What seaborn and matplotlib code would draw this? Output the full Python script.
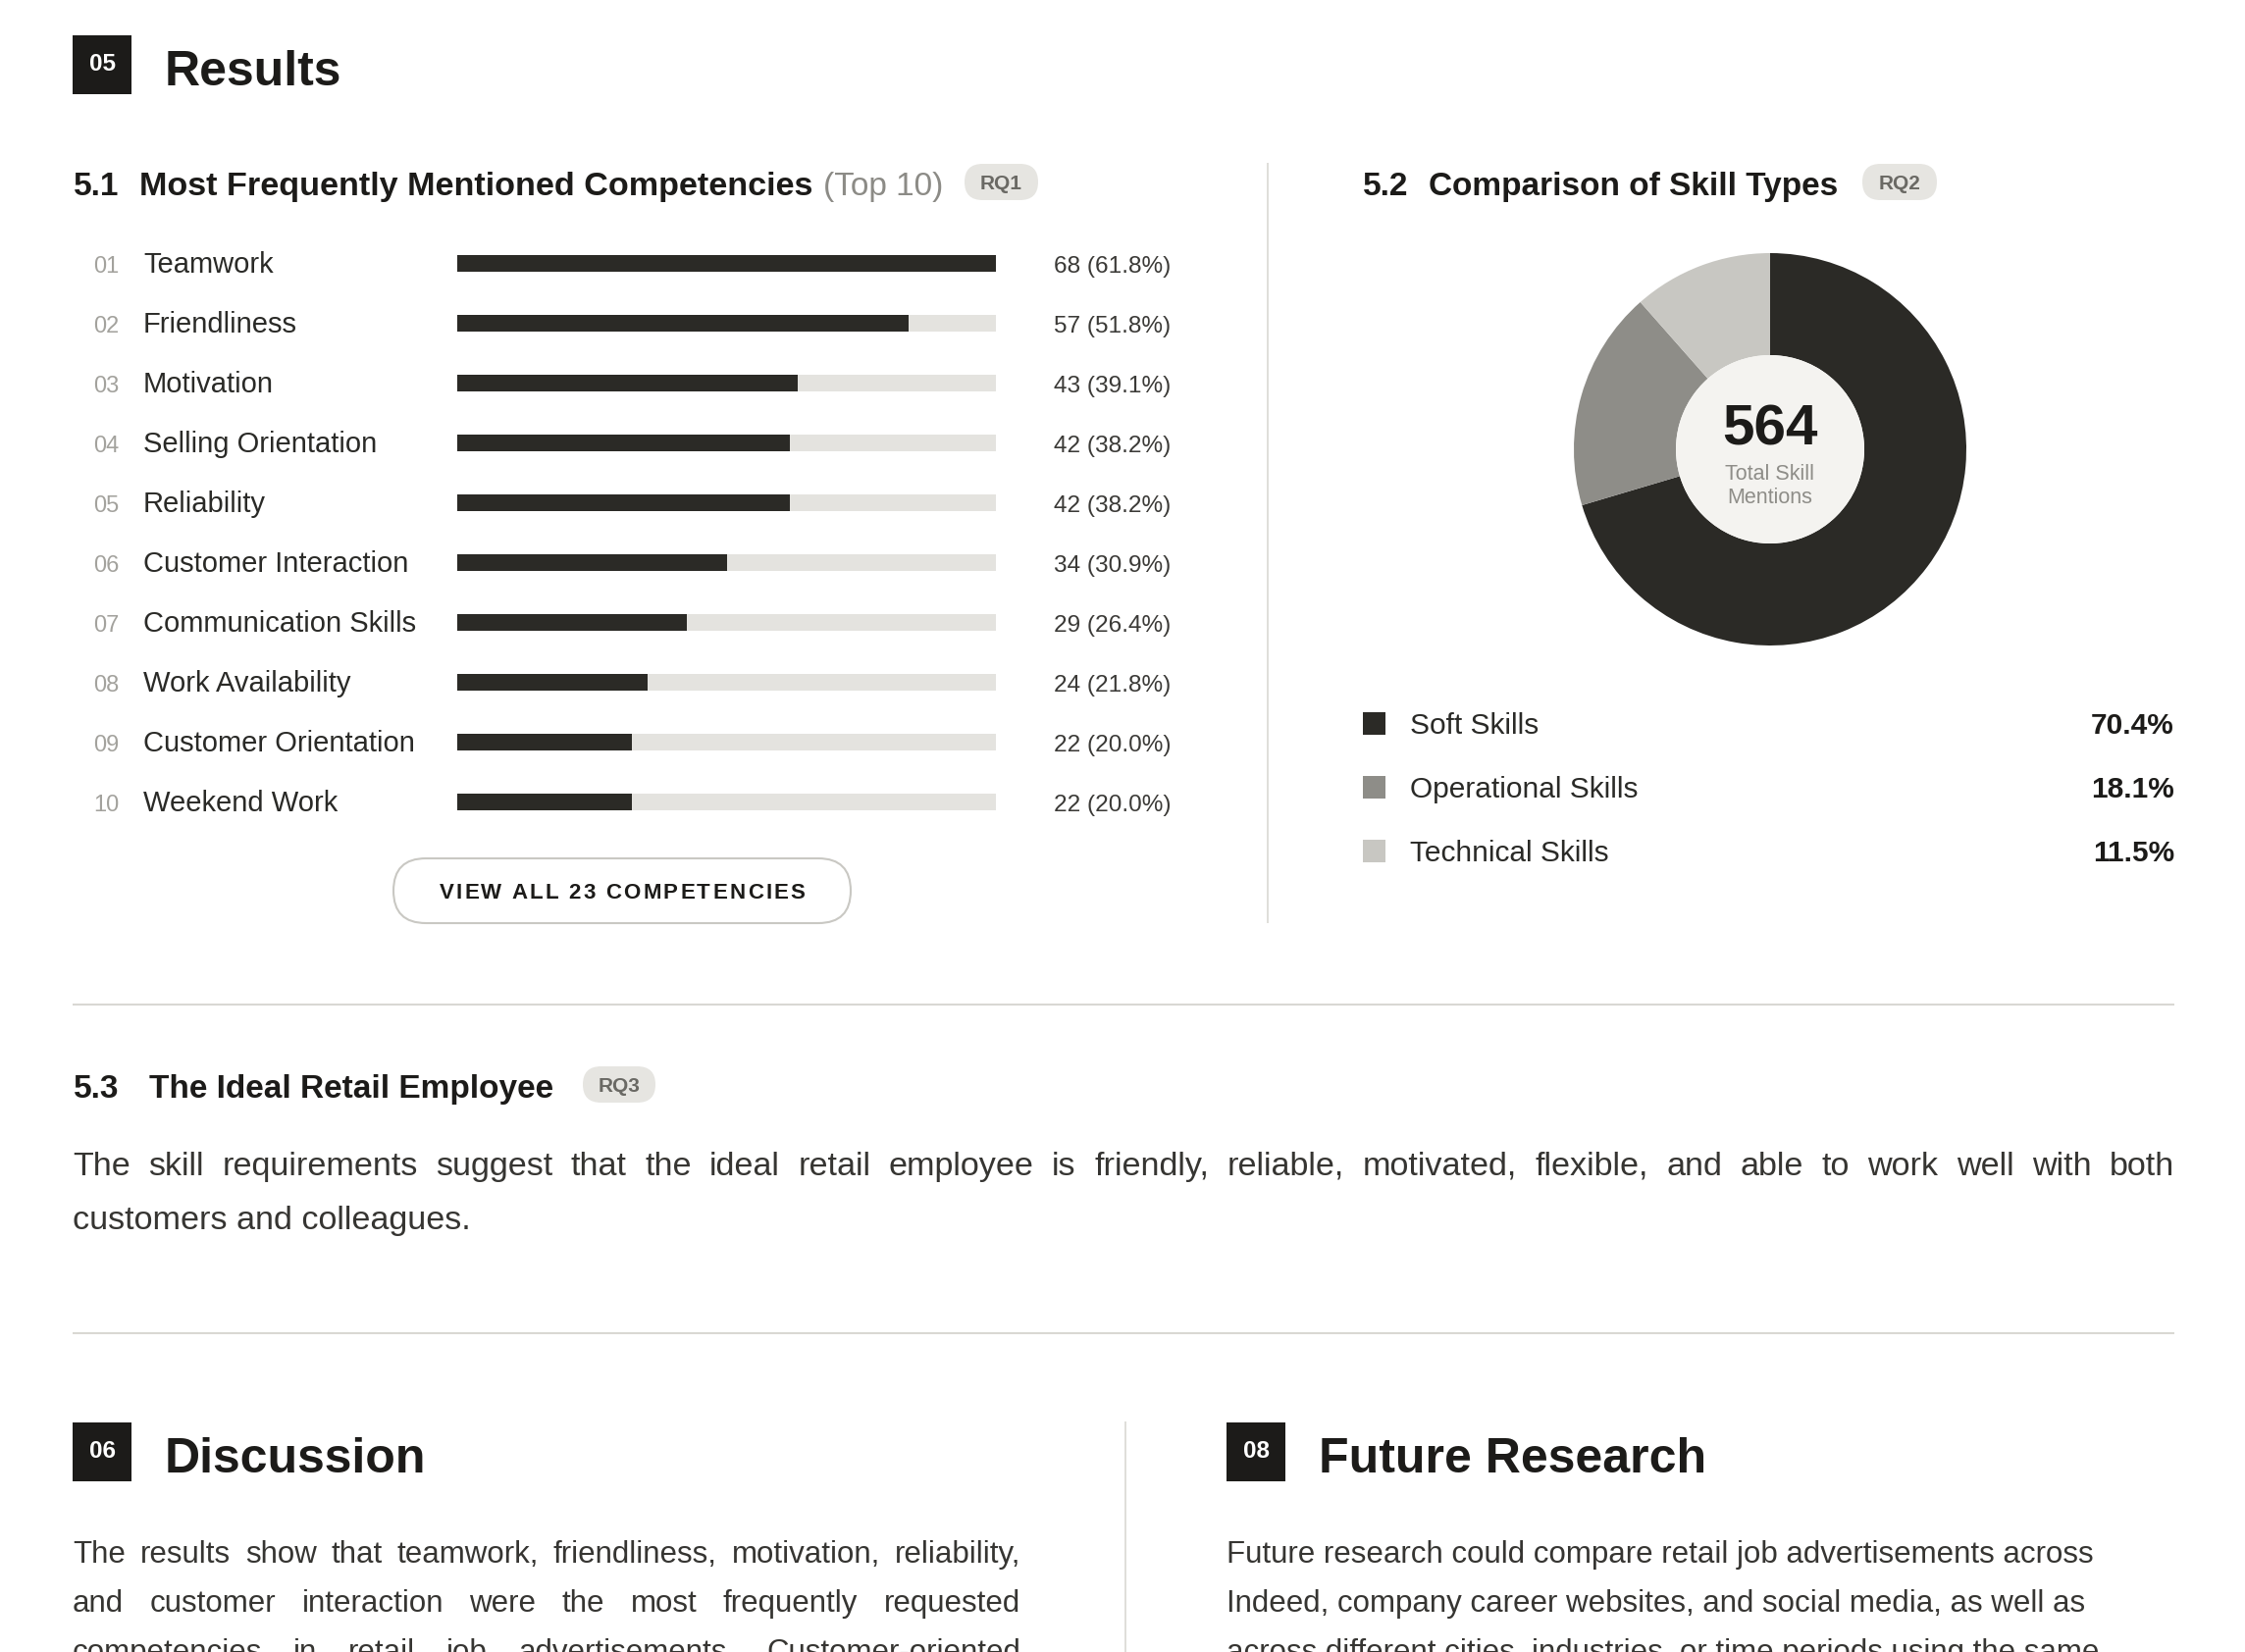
import numpy as np
import pandas as pd
import matplotlib
matplotlib.use("Agg")
import matplotlib.pyplot as plt
import matplotlib.transforms as mtrans
from matplotlib.patches import FancyBboxPatch, Circle, Rectangle
import seaborn as sns

# ---------------- data ----------------
competencies = ["Teamwork", "Friendliness", "Motivation", "Selling Orientation",
                "Reliability", "Customer Interaction", "Communication Skills",
                "Work Availability", "Customer Orientation", "Weekend Work"]
counts = [68, 57, 43, 42, 42, 34, 29, 24, 22, 22]
shares = [61.8, 51.8, 39.1, 38.2, 38.2, 30.9, 26.4, 21.8, 20.0, 20.0]

skill_types = ["Soft Skills", "Operational Skills", "Technical Skills"]
skill_shares = [70.4, 18.1, 11.5]
total_mentions = 564
n_competencies = 23

para_53 = ["The skill requirements suggest that the ideal retail employee is friendly, reliable, motivated, flexible, and able to work well with both",
           "customers and colleagues."]
para_disc = ["The results show that teamwork, friendliness, motivation, reliability,",
             "and customer interaction were the most frequently requested",
             "competencies in retail job advertisements. Customer-oriented"]
para_future = ["Future research could compare retail job advertisements across",
               "Indeed, company career websites, and social media, as well as",
               "across different cities, industries, or time periods using the same"]

# ---------------- style ----------------
DARK = "#2b2a26"
TRACK = "#e4e3df"
HEAD = "#1c1b19"
BODY = "#363532"
RULE = "#d9d8d3"
skill_colors = ["#2b2a26", "#8e8d88", "#c8c7c2"]

W, H = 2288, 1684
sns.set_style("white")
plt.rcParams['font.family'] = ['Liberation Sans', 'DejaVu Sans']

fig = plt.figure(figsize=(W / 100, H / 100), dpi=100)
fig.patch.set_facecolor("white")
renderer = fig.canvas.get_renderer()

page = fig.add_axes([0, 0, 1, 1], zorder=0)
page.set_xlim(0, W)
page.set_ylim(H, 0)
page.axis("off")


def T(x, y, s, size, color=HEAD, weight="normal", ha="left", va="baseline", ax=None, **kw):
    target = page if ax is None else ax
    return target.text(x, y, s, fontsize=size, color=color, fontweight=weight,
                       ha=ha, va=va, transform=page.transData, **kw)


def width_of(s, size, weight="normal"):
    t = page.text(0, 0, s, fontsize=size, fontweight=weight)
    w = t.get_window_extent(renderer).width
    t.remove()
    return w


def section_box(x, y, num, title):
    page.add_patch(Rectangle((x, y), 60, 60, fc="#1c1b19", ec="none"))
    T(x + 30, y + 30, num, 17.5, color="white", weight="bold", ha="center", va="center")
    T(x + 94, y + 51, title, 36, weight="bold")


def pill(x0, x1, yc, label):
    h = 37
    page.add_patch(FancyBboxPatch((x0, yc - h / 2), x1 - x0, h,
                                  boxstyle=f"round,pad=0,rounding_size={h / 2}",
                                  fc="#e6e5e1", ec="none"))
    T((x0 + x1) / 2, yc + 7.4, label, 15, color="#6a6964", weight="bold", ha="center")


def justify(line, x0, x1, y, size, color=BODY):
    words = line.split(" ")
    texts = [T(x0, y, w, size, color=color) for w in words]
    widths = [t.get_window_extent(renderer).width for t in texts]
    gap = (x1 - x0 - sum(widths)) / (len(words) - 1)
    x = x0
    for t, w in zip(texts, widths):
        t.set_x(x)
        x += w + gap


def spaced(s, xc, y, size, spacing, weight="bold", color=HEAD):
    total = width_of(s, size, weight) + spacing * (len(s) - 1)
    x0 = xc - total / 2
    for k, ch in enumerate(s):
        if ch == " ":
            continue
        pos = width_of(s[:k + 1], size, weight) - width_of(ch, size, weight)
        T(x0 + pos + k * spacing, y, ch, size, color=color, weight=weight)


# ---------------- headings ----------------
section_box(74, 36, "05", "Results")

T(75, 199, "5.1", 24, weight="bold")
T(142, 199, "Most Frequently Mentioned Competencies", 24.6, weight="bold")
T(839, 199, "(Top 10)", 24, color="#8c8b86")
pill(983, 1058, 185.5, "RQ1")

T(1389, 199, "5.2", 24, weight="bold")
T(1456, 199, "Comparison of Skill Types", 24, weight="bold")
pill(1898, 1974, 185.5, "RQ2")

# dividers
page.plot([1292, 1292], [166, 941], color=RULE, lw=1.2, solid_capstyle="butt")
page.plot([74, 2216], [1024, 1024], color=RULE, lw=1.5, solid_capstyle="butt")
page.plot([74, 2216], [1359, 1359], color=RULE, lw=1.5, solid_capstyle="butt")
page.plot([1147, 1147], [1449, H], color=RULE, lw=1.2, solid_capstyle="butt")

# ---------------- bar chart ----------------
n = len(competencies)
row_h = 61
top_px = 268.5 - row_h / 2
bar_ax = fig.add_axes([466 / W, 1 - (top_px + n * row_h) / H, (1015 - 466) / W, n * row_h / H],
                      zorder=2)
df = pd.DataFrame({"competency": competencies, "count": counts})
df["track"] = max(counts)
sns.barplot(data=df, x="track", y="competency", color=TRACK, saturation=1,
            width=17 / row_h, errorbar=None, orient="h", linewidth=0, ax=bar_ax)
sns.barplot(data=df, x="count", y="competency", color=DARK, saturation=1,
            width=17 / row_h, errorbar=None, orient="h", linewidth=0, ax=bar_ax)
bar_ax.set_xlim(0, max(counts))
bar_ax.set_ylim(n - 0.5, -0.5)
bar_ax.axis("off")

blend = mtrans.blended_transform_factory(page.transData, bar_ax.transData)
row_tr = blend + mtrans.ScaledTranslation(0, -9.5 / 100, fig.dpi_scale_trans)
for i, (name, c, s) in enumerate(zip(competencies, counts, shares)):
    bar_ax.text(95, i, f"{i + 1:02d}", transform=row_tr, fontsize=17, color="#a3a29d",
                va="baseline", ha="left", clip_on=False)
    bar_ax.text(146, i, name, transform=row_tr, fontsize=21, color="#2a2a27",
                va="baseline", ha="left", clip_on=False)
    bar_ax.text(1074, i, f"{c} ({s:.1f}%)", transform=row_tr, fontsize=17.6,
                color="#3b3a37", va="baseline", ha="left", clip_on=False)

# button
page.add_patch(FancyBboxPatch((401, 875), 466, 66, boxstyle="round,pad=0,rounding_size=33",
                              fc="white", ec="#c9c8c3", lw=1.5))
spaced(f"VIEW ALL {n_competencies} COMPETENCIES", 634, 916.5, 16, 2.3)

# ---------------- donut ----------------
cx, cy, R = 1804, 458, 200
box = R * 1.05
d_ax = fig.add_axes([(cx - box) / W, 1 - (cy + box) / H, 2 * box / W, 2 * box / H], zorder=2)
d_ax.pie(skill_shares, colors=skill_colors, startangle=90, counterclock=False, radius=1,
         wedgeprops=dict(width=0.52, linewidth=0))
d_ax.add_patch(Circle((0, 0), 0.48, fc="#f4f3f0", ec="none"))
d_ax.set_xlim(-1.05, 1.05)
d_ax.set_ylim(-1.05, 1.05)
d_ax.set_aspect("equal")
d_ax.axis("off")

T(cx, 453, f"{total_mentions}", 42, weight="bold", ha="center", ax=d_ax, clip_on=False)
T(cx, 489, "Total Skill", 15.5, color="#8e8d88", ha="center", ax=d_ax, clip_on=False)
T(cx, 513, "Mentions", 15.5, color="#8e8d88", ha="center", ax=d_ax, clip_on=False)

# legend
leg_top = 737 - 32.5
leg_ax = fig.add_axes([0, 1 - (leg_top + 3 * 65) / H, 1, 3 * 65 / H], zorder=2)
leg_ax.set_xlim(0, W)
leg_ax.set_ylim(2.5, -0.5)
leg_ax.axis("off")
ly = np.arange(len(skill_types))
leg_ax.scatter(np.full(len(skill_types), 1400.5), ly, marker="s", s=(23 * 0.72) ** 2,
               c=skill_colors, linewidths=0)
leg_tr = leg_ax.transData + mtrans.ScaledTranslation(0, -11 / 100, fig.dpi_scale_trans)
for i, (name, p) in enumerate(zip(skill_types, skill_shares)):
    leg_ax.text(1437, i, name, transform=leg_tr, fontsize=21.5, color="#2a2a27",
                va="baseline", ha="left")
    leg_ax.text(2216, i, f"{p:.1f}%", transform=leg_tr, fontsize=21.5, color=HEAD,
                fontweight="bold", va="baseline", ha="right")

# ---------------- 5.3 ----------------
T(75, 1119, "5.3", 24, weight="bold")
T(152, 1119, "The Ideal Retail Employee", 24, weight="bold")
pill(594, 668, 1105.5, "RQ3")
justify(para_53[0], 74, 2216, 1198, 24.6)
T(74, 1253, para_53[1], 24.6, color=BODY)

# ---------------- discussion / future research ----------------
section_box(74, 1450, "06", "Discussion")
section_box(1250, 1450, "08", "Future Research")
for k, line in enumerate(para_disc):
    justify(line, 74, 1040, 1593 + 50 * k, 22.5)
for k, line in enumerate(para_future):
    T(1250, 1593 + 50 * k, line, 22.5, color=BODY)

fig.savefig("out.png", dpi=100, facecolor="white")
